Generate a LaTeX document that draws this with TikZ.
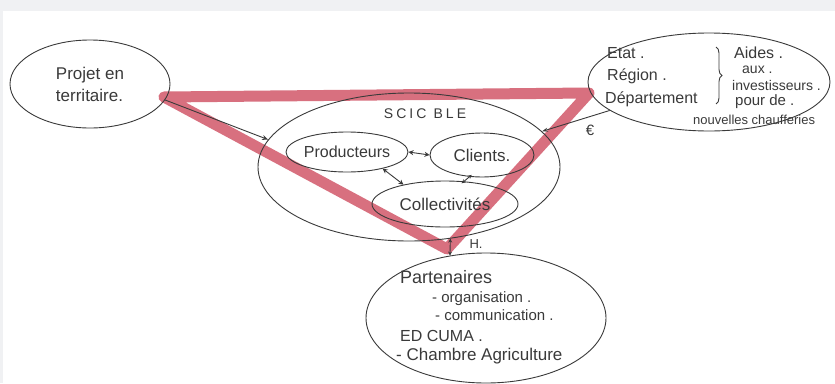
\documentclass[tikz,border=0pt]{standalone}
\usepackage{fontspec}
\setmainfont{Liberation Sans}
\usetikzlibrary{shapes.geometric,arrows.meta,decorations.pathreplacing}
\definecolor{pencil}{HTML}{3A3A3A}
\definecolor{marker}{HTML}{D8707F}
\definecolor{scanbg}{HTML}{F0F1F3}
\newcommand{\fs}[1]{\fontsize{#1}{#1}\selectfont}
\begin{document}
\begin{tikzpicture}[x=1pt,y=-1pt,
  pencil/.style={draw=pencil, line width=0.9pt},
  bubble/.style={pencil, ellipse, inner sep=0pt, text=pencil},
  note/.style={text=pencil, inner sep=0pt, anchor=base west},
  opentip/.style={-{Stealth[open,length=6pt,width=5pt]}},
  solidtip/.style={-{Stealth[length=6pt,width=4pt]}},
  twoway/.style={{Stealth[open,length=5pt,width=5pt]}-{Stealth[open,length=5pt,width=5pt]}},
  twowaysolid/.style={{Stealth[length=4pt,width=4pt]}-{Stealth[length=4pt,width=4pt]}},
]
% paper and scan border
\fill[white] (0,0) rectangle (835,383);
\fill[scanbg] (0,0) rectangle (835,11);
\fill[scanbg] (0,11) rectangle (3,383);
\useasboundingbox (0,0) rectangle (835,383);

% highlighter triangle, under the pencil work
\coordinate (tl) at (164,97);
\coordinate (tr) at (589,93);
\coordinate (tb) at (447,249);
\draw[marker, line width=11pt, line join=round] (tl) -- (tr) -- (tb) -- cycle;

% project bubble
\node[bubble, minimum width=160, minimum height=88, align=left, font=\fs{17}]
  (projet) at (90,84) {Projet en\\[5pt]territaire.};

% funders bubble
\node[bubble, minimum width=242, minimum height=98] (aides) at (709,82) {};
\node[note, font=\fs{16}] (etat) at (607,58) {Etat .};
\node[note, font=\fs{16}] (region) at (607,80) {Région .};
\node[note, font=\fs{16}] (dept) at (605,103) {Département};
\draw[pencil, decorate, decoration={brace, amplitude=6pt}] (716,47) -- (716,104);
\node[note, font=\fs{16}] (aidesl) at (734,58) {Aides .};
\node[note, font=\fs{14}] (aux) at (742,73) {aux .};
\node[note, font=\fs{14}] (invest) at (732,90) {investisseurs .};
\node[note, font=\fs{15}] (pour) at (735,105) {pour de .};
\node[note, font=\fs{13}] (chauff) at (693,124) {nouvelles chaufferies};

% cooperative bubble
\node[bubble, minimum width=302, minimum height=148] (scic) at (409,167) {};
\node[text=pencil, inner sep=0pt, font=\fs{14}\addfontfeature{LetterSpace=22}]
  (scicname) at (425,114) {SCIC BLE};
\node[bubble, minimum width=120, minimum height=40, font=\fs{16}] (prod) at (347,152) {Producteurs};
\node[bubble, minimum width=104, minimum height=44, font=\fs{17}] (clients) at (482,155) {Clients.};
\node[bubble, minimum width=146, minimum height=46, font=\fs{17}] (coll) at (445,204) {Collectivités};

% partners bubble
\node[bubble, minimum width=240, minimum height=130] (part) at (486,318) {};
\node[note, font=\fs{18}] (partl) at (400,283) {Partenaires};
\node[note, font=\fs{15}] (orga) at (432,302) {- organisation .};
\node[note, font=\fs{15}] (comm) at (435,320) {- communication .};
\node[note, font=\fs{16}] (cuma) at (400,341) {ED CUMA .};
\node[note, font=\fs{17}] (chambre) at (396,360) {- Chambre Agriculture};

% links
\draw[pencil, opentip] (projet.-12) -- (scic.169);
\draw[pencil, solidtip] (aides.196) -- (scic.15);
\node[text=pencil, inner sep=0pt, font=\fs{15}] (euro) at (590,130) {€};
\draw[pencil, twoway] (prod.east) -- (clients.west);
\draw[pencil, twoway] (prod.-25) -- (coll.155);
\draw[pencil, twowaysolid, shorten <=-3pt, shorten >=-3pt] (clients.-120) -- (coll.50);
\draw[pencil, twowaysolid] (scic.-60) -- (part.120);
\node[text=pencil, inner sep=0pt, font=\fs{13}] (hlabel) at (476,244) {H.};
\end{tikzpicture}
\end{document}
